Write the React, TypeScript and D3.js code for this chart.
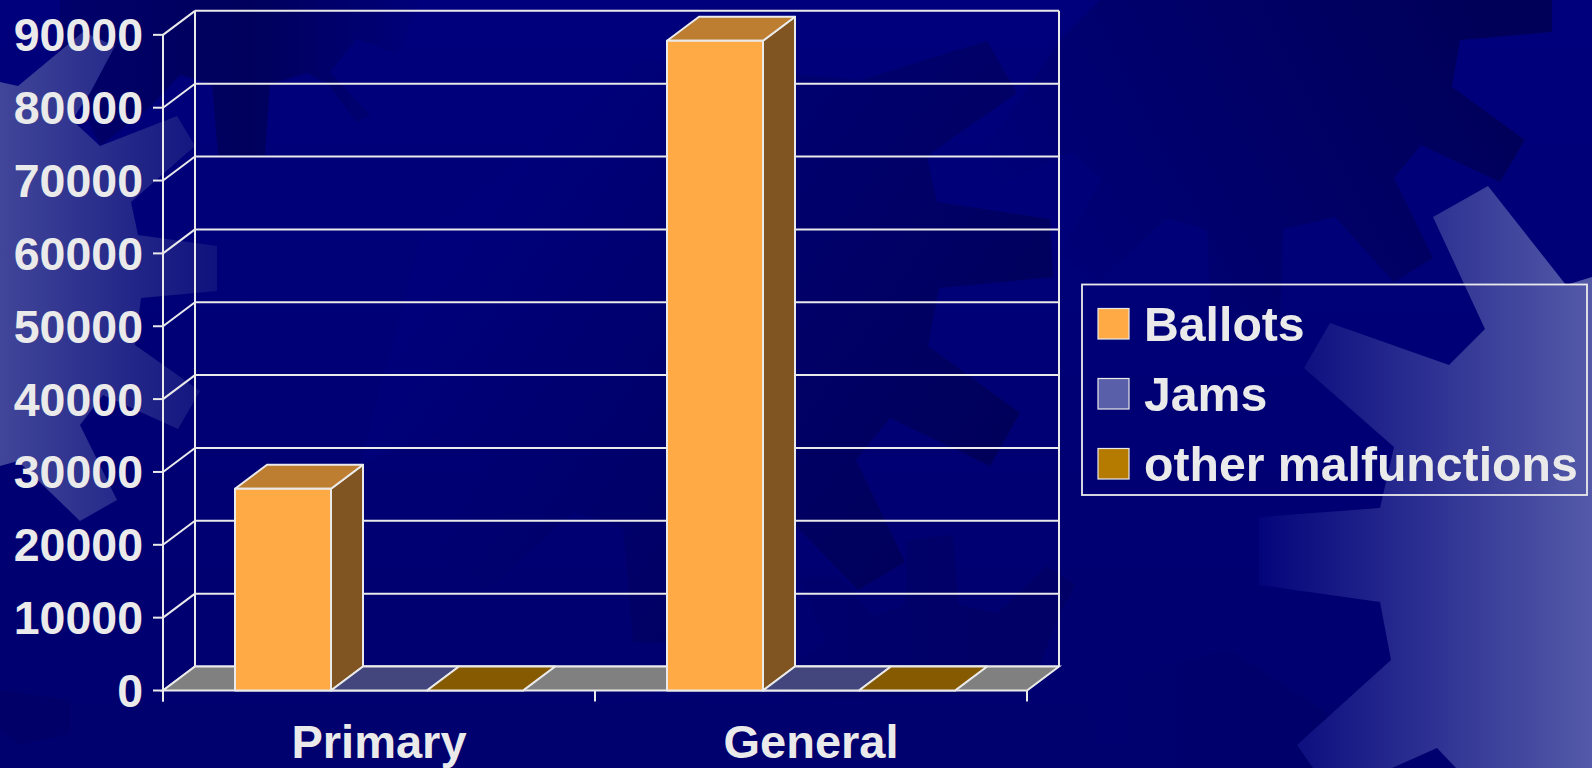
import * as d3 from "d3";

const categories = ["Primary", "General"];
const seriesNames = ["Ballots", "Jams", "other malfunctions"];
const ballots = [27700, 89200];
const jams = [0, 0];
const otherMalfunctions = [0, 0];
const seriesValues = [ballots, jams, otherMalfunctions];
const seriesColors = ["#ffaa44", "#5a5fa9", "#b57a00"];
const yTicks = [0, 10000, 20000, 30000, 40000, 50000, 60000, 70000, 80000, 90000];

// decorative gears behind the chart, traced by hand
const lightRight = "1488,186 1433,217 1485,329 1449,365 1330,323 1304,368 1394,447 1380,508 1259,517 1259,585 1380,602 1391,660 1297,745 1313,768 1392,768 1437,748 1456,768 1592,768 1592,277 1566,285";
const lightLeft = "0,82 18,86 83,32 115,46 90,93 72,120 100,146 177,116 195,146 131,202 138,235 217,246 217,291 141,298 135,345 200,391 178,429 103,395 80,425 117,500 80,521 18,461 0,466";
const darkRight = "1552,0 1552,32 1460,40 1452,87 1525,140 1500,182 1421,145 1394,178 1433,258 1394,282 1335,217 1283,229 1280,322 1211,322 1207,230 1167,218 1097,283 1060,253 1101,180 1072,152 997,186 985,150 1060,40 1100,0";
const darkCenter = "360,465 452,428 488,463 440,555 487,590 573,512 623,528 633,642 760,645 795,525 858,590 905,562 856,460 890,418 990,466 1020,413 928,346 939,288 1053,277 1050,219 937,202 927,156 1017,93 987,41 860,80 640,60 420,240";
const darkBottom = "620,700 797,661 827,642 797,577 840,577 873,616 905,605 907,540 953,535 958,605 997,613 1047,566 1075,585 1060,613 1030,690 800,700";
const darkBottomRight = "1145,670 1094,712 1097,738 1168,748 1168,768 1320,768 1297,745 1330,715 1230,650";
const darkTopLeft = "60,0 420,0 397,54 357,39 330,72 370,114 357,123 328,84 307,73 270,84 265,155 218,155 212,84 180,75 150,107 100,146 60,60";
const darkBottomLeft = "0,690 70,700 70,733 20,745 0,730";

const W = 1592;
const H = 768;
const depthX = 32;
const depthY = 24;
const ink = "#eaeaea";
const font = "'Liberation Sans', Arial, sans-serif";

const y = d3.scaleLinear().domain([0, 90000]).range([690.5, 34.85]);
const x0 = d3.scaleBand().domain(categories).range([163, 1027]);
const x1 = d3
  .scaleBand()
  .domain(seriesNames)
  .range([0, x0.bandwidth()])
  .paddingInner(0)
  .paddingOuter(0.75);

function shade(color: string, k: number) {
  const c = d3.rgb(color);
  return d3.rgb(c.r * k, c.g * k, c.b * k).formatHex();
}

function Gear({ points, fill }: { points: string; fill: string }) {
  return <polygon points={points} fill={fill} />;
}

export default function App() {
  const [x, xEnd] = x0.range();
  const yZero = y(0);
  const yTop = y(90000);

  return (
    <svg
      width={W}
      height={H}
      viewBox={`0 0 ${W} ${H}`}
      style={{ position: "fixed", left: 0, top: 0, display: "block" }}
      fontFamily={font}
    >
      <defs>
        <linearGradient id="bg" x1="0" y1="0" x2="0" y2="1">
          <stop offset="0" stopColor="#00007c" />
          <stop offset="1" stopColor="#00006e" />
        </linearGradient>
        <linearGradient id="lightR" gradientUnits="userSpaceOnUse" x1="1240" y1="0" x2="1592" y2="0">
          <stop offset="0" stopColor="#000078" />
          <stop offset="1" stopColor="#545aa8" />
        </linearGradient>
        <linearGradient id="lightL" gradientUnits="userSpaceOnUse" x1="0" y1="0" x2="240" y2="0">
          <stop offset="0" stopColor="#414699" />
          <stop offset="1" stopColor="#0a0c7a" />
        </linearGradient>
        <linearGradient id="darkR" gradientUnits="userSpaceOnUse" x1="1050" y1="300" x2="1520" y2="60">
          <stop offset="0" stopColor="#000078" />
          <stop offset="1" stopColor="#000058" />
        </linearGradient>
        <linearGradient id="darkC" gradientUnits="userSpaceOnUse" x1="560" y1="100" x2="1030" y2="420">
          <stop offset="0" stopColor="#00007a" />
          <stop offset="1" stopColor="#00005a" />
        </linearGradient>
        <linearGradient id="darkB" gradientUnits="userSpaceOnUse" x1="620" y1="0" x2="1000" y2="0">
          <stop offset="0" stopColor="#000074" />
          <stop offset="1" stopColor="#000066" />
        </linearGradient>
        <linearGradient id="darkBR" gradientUnits="userSpaceOnUse" x1="1100" y1="0" x2="1350" y2="0">
          <stop offset="0" stopColor="#000070" />
          <stop offset="1" stopColor="#000068" />
        </linearGradient>
        <linearGradient id="darkTL" gradientUnits="userSpaceOnUse" x1="60" y1="0" x2="440" y2="0">
          <stop offset="0" stopColor="#00006a" />
          <stop offset="0.5" stopColor="#00005c" />
          <stop offset="0.95" stopColor="#00007a" />
        </linearGradient>
      </defs>

      <rect width={W} height={H} fill="url(#bg)" />
      <Gear points={darkTopLeft} fill="url(#darkTL)" />
      <Gear points={darkCenter} fill="url(#darkC)" />
      <Gear points={darkBottom} fill="url(#darkB)" />
      <Gear points={darkBottomRight} fill="url(#darkBR)" />
      <Gear points={darkBottomLeft} fill="#000068" />
      <Gear points={darkRight} fill="url(#darkR)" />
      <Gear points={lightRight} fill="url(#lightR)" />
      <Gear points={lightLeft} fill="url(#lightL)" />

      <g stroke={ink} strokeWidth={2} fill="none">
        {/* back wall grid + the diagonals down to the front axis */}
        {yTicks.map((t) => (
          <g key={t}>
            <line x1={x - 10} x2={x} y1={y(t)} y2={y(t)} />
            <line x1={x} x2={x + depthX} y1={y(t)} y2={y(t) - depthY} />
            <line x1={x + depthX} x2={xEnd + depthX} y1={y(t) - depthY} y2={y(t) - depthY} />
          </g>
        ))}
        <line x1={x} x2={x} y1={yTop} y2={yZero + 11} />
        <line x1={x + depthX} x2={x + depthX} y1={yTop - depthY} y2={yZero - depthY} />
        <line x1={xEnd + depthX} x2={xEnd + depthX} y1={yTop - depthY} y2={yZero - depthY} />
        <polygon
          points={`${x},${yZero} ${xEnd},${yZero} ${xEnd + depthX},${yZero - depthY} ${x + depthX},${yZero - depthY}`}
          fill="#808080"
        />
        {categories.map((c) => (
          <line key={c} x1={x0(c)!} x2={x0(c)!} y1={yZero} y2={yZero + 11} />
        ))}
        <line x1={xEnd} x2={xEnd} y1={yZero} y2={yZero + 11} />
      </g>

      {/* each bar is side, top, front so zero values collapse to a flat floor tile */}
      {categories.map((c, ci) =>
        seriesNames.map((s, si) => {
          const left = x0(c)! + x1(s)!;
          const right = left + x1.bandwidth();
          const top = y(seriesValues[si][ci]);
          const color = seriesColors[si];
          return (
            <g key={`${c}-${s}`} stroke={ink} strokeWidth={2} strokeLinejoin="round">
              <polygon
                points={`${right},${yZero} ${right + depthX},${yZero - depthY} ${right + depthX},${top - depthY} ${right},${top}`}
                fill={shade(color, 0.5)}
              />
              <polygon
                points={`${left},${top} ${right},${top} ${right + depthX},${top - depthY} ${left + depthX},${top - depthY}`}
                fill={shade(color, 0.74)}
              />
              <rect x={left} y={top} width={right - left} height={yZero - top} fill={color} />
            </g>
          );
        })
      )}

      <g fill={ink} fontWeight={700} fontSize={46.5}>
        {yTicks.map((t) => (
          <text key={t} x={143} y={y(t) + 16.5} textAnchor="end">
            {t}
          </text>
        ))}
        {categories.map((c) => (
          <text key={c} x={x0(c)! + x0.bandwidth() / 2} y={758} textAnchor="middle" fontSize={47}>
            {c}
          </text>
        ))}
      </g>

      <rect x={1082} y={284.5} width={505} height={210.5} fill="none" stroke={ink} strokeWidth={1.8} />
      {seriesNames.map((s, i) => (
        <g key={s} transform={`translate(0, ${i * 70})`}>
          <rect x={1098} y={308.5} width={31} height={30.5} fill={seriesColors[i]} stroke={ink} strokeWidth={1.2} />
          <text x={1144} y={341} fill={ink} fontWeight={700} fontSize={48.2}>
            {s}
          </text>
        </g>
      ))}
    </svg>
  );
}
